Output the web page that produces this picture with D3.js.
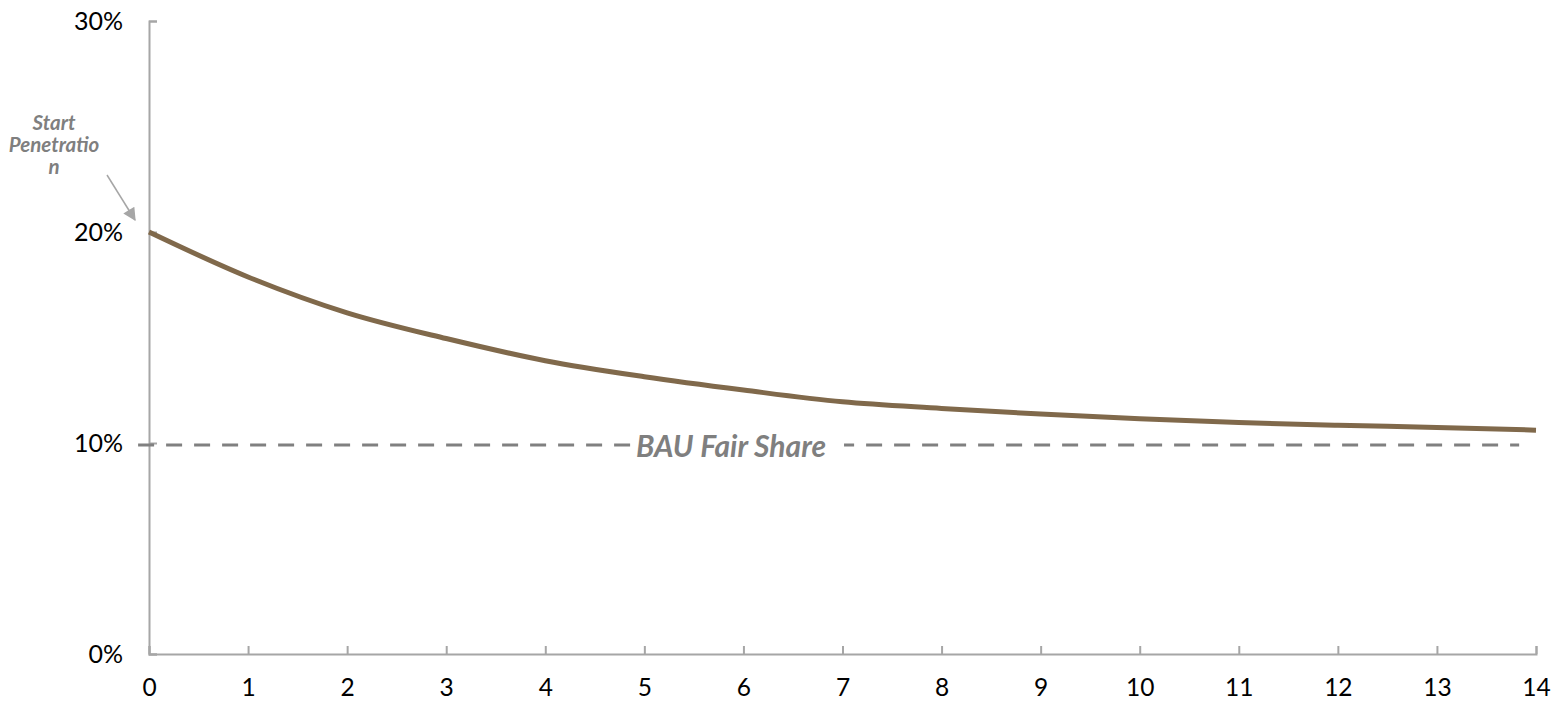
<!DOCTYPE html>
<html>
<head>
<meta charset="utf-8">
<script src="https://cdn.jsdelivr.net/npm/d3@7"></script>
<style>
  html, body { margin: 0; padding: 0; background: #fff; }
  svg { display: block; }
  text { font-family: Lato, "Open Sans", sans-serif; }
</style>
</head>
<body>
<svg id="chart" width="1560" height="702"></svg>
<script>
// Periods since launch
const periods = [0, 1, 2, 3, 4, 5, 6, 7, 8, 9, 10, 11, 12, 13, 14];
// Penetration share per period
const penetration = [0.200, 0.1787, 0.1617, 0.1495, 0.1390, 0.1314, 0.1251, 0.1195,
                     0.1164, 0.1137, 0.1115, 0.1097, 0.1084, 0.1074, 0.1061];
// Business-as-usual fair share reference level and its horizontal extent
const fairShare = 0.099;
const fairShareSpan = [-0.11, 13.83];
const fairShareLabel = "BAU Fair Share";
const startLabel = ["Start", "Penetratio", "n"];
// Axis ticks
const yTicks = [0, 0.1, 0.2, 0.3];
const xTicks = periods;

const svg = d3.select("#chart");
const margin = { left: 149, right: 24, top: 21, bottom: 48 };
const W = 1560, H = 702;

const x = d3.scaleLinear().domain([0, 14]).range([margin.left, W - margin.right]);
const y = d3.scaleLinear().domain([0, 0.3]).range([H - margin.bottom, margin.top]);

const axisColor = "#a6a6a6";
const labelGrey = "#7f7f7f";

// Y axis: ticks point into the plot
const yAxis = svg.append("g")
  .attr("transform", `translate(${x(0)},0)`)
  .call(d3.axisLeft(y).tickValues(yTicks).tickFormat(d3.format(".0%")).tickSizeInner(-8).tickSizeOuter(-8).tickPadding(26));
yAxis.select(".domain").attr("stroke", axisColor).attr("stroke-width", 2);
yAxis.selectAll(".tick line").attr("stroke", axisColor).attr("stroke-width", 2);
yAxis.selectAll(".tick text").attr("font-size", 25).attr("fill", "#000")
  .style("font-family", "Lato, sans-serif");

// X axis
const xAxis = svg.append("g")
  .attr("transform", `translate(0,${y(0)})`)
  .call(d3.axisBottom(x).tickValues(xTicks).tickFormat(d3.format("d")).tickSizeInner(-8).tickSizeOuter(-8).tickPadding(25));
xAxis.select(".domain").attr("stroke", axisColor).attr("stroke-width", 2);
xAxis.selectAll(".tick line").attr("stroke", axisColor).attr("stroke-width", 2);
xAxis.selectAll(".tick text").attr("font-size", 24.5).attr("fill", "#000")
  .style("font-family", "Lato, sans-serif");

// Fair share reference (dashed)
svg.append("line")
  .attr("x1", x(fairShareSpan[0])).attr("x2", x(fairShareSpan[1]))
  .attr("y1", y(fairShare)).attr("y2", y(fairShare))
  .attr("stroke", "#808080").attr("stroke-width", 3)
  .attr("stroke-dasharray", "16 12");

// Label for the reference level on a white backing
const lblX = 731, lblY = y(fairShare);
const lblBg = svg.append("rect").attr("fill", "#fff");
const lbl = svg.append("text")
  .attr("x", lblX).attr("y", lblY)
  .attr("text-anchor", "middle").attr("dominant-baseline", "central")
  .attr("font-size", 30).attr("font-weight", 700).attr("font-style", "italic")
  .attr("fill", labelGrey)
  .text(fairShareLabel);
const bb = lbl.node().getBBox();
lblBg.attr("x", bb.x - 2).attr("y", bb.y).attr("width", bb.width + 20).attr("height", bb.height);

// Penetration curve
svg.append("path")
  .datum(periods.map((p, i) => [p, penetration[i]]))
  .attr("fill", "none")
  .attr("stroke", "#80694b")
  .attr("stroke-width", 5)
  .attr("stroke-linejoin", "round")
  .attr("d", d3.line().x(d => x(d[0])).y(d => y(d[1])).curve(d3.curveMonotoneX));

// Start penetration annotation
const ann = svg.append("text")
  .attr("text-anchor", "middle")
  .attr("font-size", 20.5).attr("font-weight", 700).attr("font-style", "italic")
  .attr("fill", labelGrey);
startLabel.forEach((t, i) => {
  ann.append("tspan").attr("x", 54).attr("y", 130 + i * 22).text(t);
});

svg.append("defs").append("marker")
  .attr("id", "arrowhead")
  .attr("viewBox", "0 0 10 10").attr("refX", 9).attr("refY", 5)
  .attr("markerUnits", "userSpaceOnUse")
  .attr("markerWidth", 15).attr("markerHeight", 13).attr("orient", "auto")
  .append("path").attr("d", "M0,0 L10,5 L0,10 Z").attr("fill", "#a6a6a6");

svg.append("line")
  .attr("x1", 107).attr("y1", 175).attr("x2", 135).attr("y2", 220)
  .attr("stroke", "#a6a6a6").attr("stroke-width", 1.5)
  .attr("marker-end", "url(#arrowhead)");
</script>
</body>
</html>
